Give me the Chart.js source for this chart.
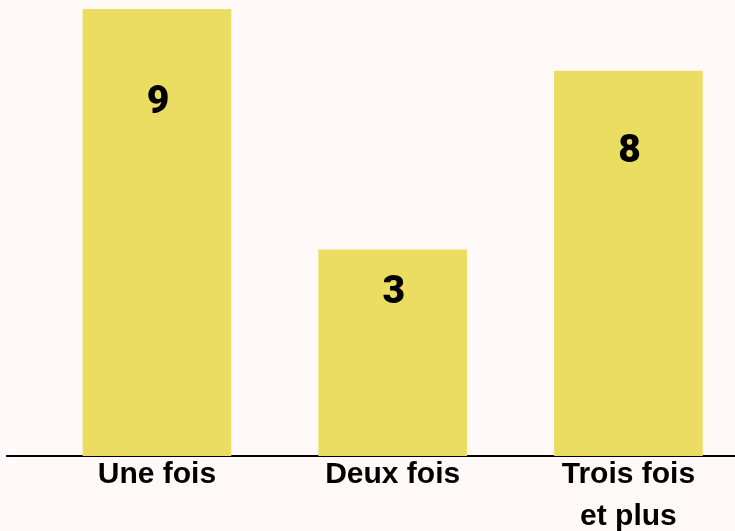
<!DOCTYPE html>
<html>
<head>
<meta charset="utf-8">
<script src="https://cdn.jsdelivr.net/npm/chart.js@4.4.1/dist/chart.umd.min.js"></script>
<style>
  html, body { margin: 0; padding: 0; background: #fffaf7; }
  #wrap { width: 735px; height: 531px; position: relative; }
</style>
</head>
<body>
<div id="wrap"><canvas id="chart"></canvas></div>
<script>
const categories = [['Une fois'], ['Deux fois'], ['Trois fois', 'et plus']];
const barHeights = [9, 4.15, 7.75];   // bar heights as drawn (0-9 scale)
const valueLabels = ['9', '3', '8'];  // numbers printed in the bars

// prints the number inside each bar, a bit below its top
const valueLabelPlugin = {
  id: 'valueLabels',
  afterDatasetsDraw(chart) {
    const ctx = chart.ctx;
    const meta = chart.getDatasetMeta(0);
    ctx.save();
    ctx.fillStyle = '#000';
    ctx.font = '900 39px Roboto, "DejaVu Sans", sans-serif';
    ctx.textAlign = 'center';
    ctx.textBaseline = 'middle';
    meta.data.forEach((bar, i) => {
      const y = bar.y + (bar.base - bar.y) * 0.21;
      ctx.fillText(valueLabels[i], bar.x + 1, y);
    });
    ctx.restore();
  }
};

new Chart(document.getElementById('chart'), {
  type: 'bar',
  data: {
    datasets: [{
      data: barHeights.map((v, i) => ({ x: i, y: v })),
      backgroundColor: '#eadd62',
      borderWidth: 0,
      barThickness: 148
    }]
  },
  plugins: [valueLabelPlugin],
  options: {
    responsive: true,
    maintainAspectRatio: false,
    animation: false,
    layout: { padding: { top: 9, left: 7, right: 0, bottom: 0 } },
    plugins: {
      legend: { display: false },
      tooltip: { enabled: false }
    },
    scales: {
      x: {
        type: 'linear',
        offset: false,
        min: -0.636,
        max: 2.452,
        afterBuildTicks: (axis) => {
          axis.ticks = categories.map((c, i) => ({ value: i }));
        },
        afterFit: (axis) => { axis.height = 75; },
        grid: { display: false, drawTicks: false, offset: false },
        border: { display: true, color: '#000', width: 2 },
        ticks: {
          padding: -2,
          maxRotation: 0,
          autoSkip: false,
          color: '#000',
          font: { family: '"Liberation Sans", Arial, sans-serif', size: 30, weight: 'bold', lineHeight: 1.4 },
          callback: (v) => categories[v]
        }
      },
      y: {
        display: false,
        min: 0,
        max: 9
      }
    }
  }
});
</script>
</body>
</html>
